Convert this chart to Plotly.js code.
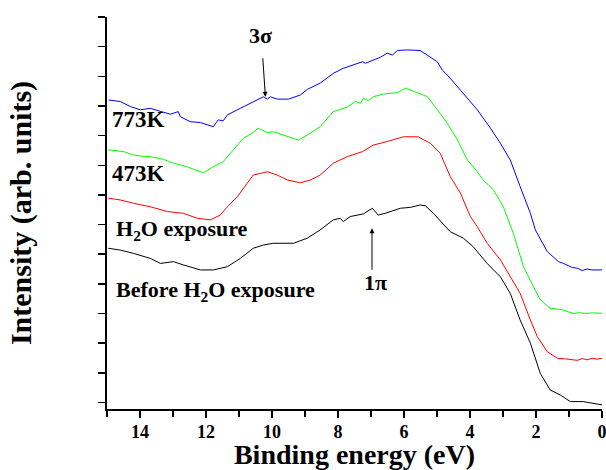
<!DOCTYPE html>
<html>
<head>
<meta charset="utf-8">
<script src="https://cdn.plot.ly/plotly-3.0.1.min.js"></script>
<style>html,body{margin:0;padding:0;background:#fff;}#chart{width:606px;height:470px;}</style>
</head>
<body>
<div id="chart"></div>
<script>
// Binding energy (eV) and intensity (arb. units)
var energy773 = [14.95,14.60,14.29,13.99,13.69,13.38,13.08,12.84,12.78,12.48,12.17,11.78,11.63,11.48,11.35,10.96,10.57,10.26,10.14,10.05,9.84,9.50,9.14,8.93,8.54,8.14,7.84,7.53,7.26,7.17,6.72,6.51,6.35,6.20,5.90,5.51,5.20,4.99,4.84,4.66,4.38,4.08,3.78,3.60,3.38,3.08,2.78,2.48,2.17,2.02,1.66,1.32,1.17,0.90,0.75,0.60,0.45,0.30,0.15,0.00];
var intensity773 = [10.20,10.15,9.98,9.87,9.92,9.81,9.72,9.81,9.64,9.47,9.44,9.30,9.53,9.50,9.70,9.92,10.15,10.31,10.23,10.31,10.23,10.23,10.37,10.56,10.77,11.10,11.27,11.38,11.49,11.44,11.64,11.78,11.72,11.87,11.89,11.87,11.64,11.49,11.21,11.01,10.65,10.26,9.87,9.59,9.25,8.74,8.18,7.28,6.38,5.82,5.09,4.75,4.69,4.55,4.53,4.45,4.50,4.47,4.48,4.47];

var energy473 = [14.96,14.50,14.20,13.99,13.69,13.29,12.99,12.57,12.32,12.08,11.78,11.48,11.17,10.87,10.60,10.42,10.14,9.96,9.66,9.38,9.20,8.93,8.54,8.14,7.72,7.48,7.32,7.23,7.08,6.93,6.63,6.20,5.96,5.60,5.29,4.99,4.69,4.38,4.08,3.78,3.60,3.29,2.99,2.69,2.38,2.08,1.87,1.57,1.17,1.00,0.85,0.70,0.50,0.30,0.10,0.00];
var intensity473 = [8.52,8.46,8.35,8.31,8.29,8.20,8.07,7.95,7.84,7.75,7.95,8.12,8.52,8.91,9.08,9.25,9.10,9.13,9.02,8.91,8.85,9.02,9.30,9.81,9.96,10.15,10.09,10.26,10.18,10.31,10.40,10.45,10.60,10.45,10.31,9.87,9.42,8.85,8.18,7.78,7.50,7.17,6.60,5.72,4.58,3.91,3.46,3.18,3.12,3.05,3.00,3.03,3.00,3.02,3.00,3.01];

var energyH2O = [14.96,14.60,14.20,13.69,13.17,12.69,12.26,11.87,11.57,11.35,11.05,10.75,10.57,10.14,9.84,9.53,9.14,8.84,8.54,8.14,7.72,7.26,6.93,6.51,6.20,6.02,5.57,5.20,4.90,4.60,4.29,3.99,3.78,3.48,3.08,2.78,2.48,2.17,1.96,1.66,1.35,1.10,0.90,0.75,0.60,0.45,0.30,0.15,0.00];
var intensityH2O = [6.89,6.83,6.72,6.60,6.44,6.38,6.21,6.16,6.32,6.60,6.94,7.39,7.67,7.78,7.67,7.50,7.41,7.50,7.67,8.07,8.29,8.46,8.68,8.80,8.91,8.96,8.96,8.74,8.40,7.62,7.06,6.27,5.93,5.37,4.81,4.24,3.68,2.78,2.22,1.71,1.49,1.47,1.44,1.42,1.48,1.44,1.49,1.46,1.49];

var energyBefore = [14.96,14.60,14.20,13.69,13.38,12.99,12.69,12.17,11.78,11.35,10.96,10.57,10.26,9.96,9.35,8.93,8.54,8.14,7.93,7.84,7.63,7.23,6.96,6.78,6.57,6.11,5.81,5.51,5.35,5.11,4.60,4.20,3.90,3.48,3.08,2.78,2.48,2.17,1.87,1.57,1.26,0.96,0.57,0.00];
var intensityBefore = [5.20,5.14,5.03,4.86,4.69,4.75,4.64,4.47,4.47,4.58,4.86,5.20,5.31,5.37,5.37,5.54,5.82,6.16,6.21,6.10,6.27,6.36,6.55,6.32,6.38,6.55,6.58,6.66,6.63,6.38,5.76,5.54,5.25,4.69,4.24,3.68,2.78,2.00,0.98,0.42,0.25,0.03,0.03,-0.08];

var xTickValues = [14,12,10,8,6,4,2,0];
var xTickLabels = ['14','12','10','8','6','4','2','0'];

var FONT = 'Liberation Serif, Times New Roman, serif';

function line(x, y, color, name) {
  return {x: x, y: y, type: 'scatter', mode: 'lines', name: name,
          line: {color: color, width: 1}, hoverinfo: 'skip'};
}

var data = [
  line(energyBefore, intensityBefore, '#000000', 'Before H2O exposure'),
  line(energyH2O, intensityH2O, '#ff0000', 'H2O exposure'),
  line(energy473, intensity473, '#00ff00', '473K'),
  line(energy773, intensity773, '#0000ff', '773K')
];

var labelFont = {family: FONT, size: 22, color: '#000', weight: 'bold'};
var tempFont = {family: FONT, size: 23, color: '#000', weight: 'bold'};

var layout = {
  width: 606, height: 470,
  margin: {l: 107, r: 4, t: 17, b: 61},
  paper_bgcolor: '#fff', plot_bgcolor: '#fff',
  showlegend: false,
  font: {family: FONT, color: '#000'},
  xaxis: {
    range: [15, 0], showgrid: false, zeroline: false,
    showline: true, linecolor: '#000', linewidth: 2,
    ticks: 'outside', ticklen: 7, tickwidth: 1.5, tickcolor: '#000',
    tickvals: xTickValues, ticktext: xTickLabels, ticklabeloverflow: 'allow',
    ticklabelstandoff: -2,
    tickfont: {family: FONT, size: 18, weight: 'bold', color: '#000'},
    minor: {dtick: 1, ticks: 'outside', ticklen: 6, tickwidth: 1.5, tickcolor: '#000', showgrid: false},
    title: {text: 'Binding energy (eV)', font: {family: FONT, size: 28, weight: 'bold', color: '#000'}, standoff: 7},
    automargin: false
  },
  yaxis: {
    range: [-0.22, 13.0], showgrid: false, zeroline: false,
    showline: true, linecolor: '#000', linewidth: 2,
    ticks: 'outside', ticklen: 7, tickwidth: 1.5, tickcolor: '#000',
    dtick: 1, tick0: 0, showticklabels: false,
    title: {text: 'Intensity (arb. units)', font: {family: FONT, size: 30, weight: 'bold', color: '#000'}, standoff: 58},
    automargin: false
  },
  annotations: [
    {x: 14.9, y: 9.56, xref: 'x', yref: 'y', text: '773K', showarrow: false, xanchor: 'left', yanchor: 'middle', font: tempFont},
    {x: 14.9, y: 7.73, xref: 'x', yref: 'y', text: '473K', showarrow: false, xanchor: 'left', yanchor: 'middle', font: tempFont},
    {x: 14.8, y: 5.82, xref: 'x', yref: 'y', text: 'H<sub>2</sub>O exposure', showarrow: false, xanchor: 'left', yanchor: 'middle', font: labelFont},
    {x: 14.8, y: 3.76, xref: 'x', yref: 'y', text: 'Before H<sub>2</sub>O exposure', showarrow: false, xanchor: 'left', yanchor: 'middle', font: labelFont},
    {x: 10.35, y: 12.36, xref: 'x', yref: 'y', text: '3σ', showarrow: false, xanchor: 'center', yanchor: 'middle', font: labelFont},
    {x: 6.87, y: 4.05, xref: 'x', yref: 'y', text: '1π', showarrow: false, xanchor: 'center', yanchor: 'middle', font: labelFont},
    {x: 10.20, y: 10.31, xref: 'x', yref: 'y', text: '', showarrow: true, ax: -2.7, ay: -40, arrowhead: 2, arrowsize: 1, arrowwidth: 1, arrowcolor: '#000'},
    {x: 6.97, y: 5.875, xref: 'x', yref: 'y', text: '', showarrow: true, ax: 0, ay: 43, arrowhead: 2, arrowsize: 1, arrowwidth: 1, arrowcolor: '#000'}
  ]
};

Plotly.newPlot('chart', data, layout, {displayModeBar: false, staticPlot: true});
</script>
</body>
</html>
